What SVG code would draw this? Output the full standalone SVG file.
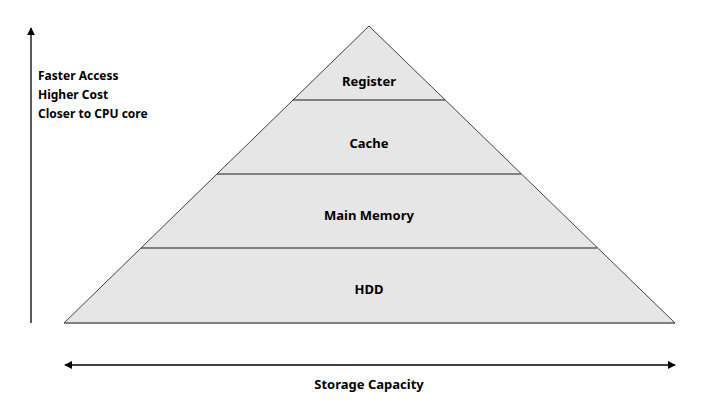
<svg xmlns="http://www.w3.org/2000/svg" width="724" height="408" viewBox="0 0 724 408">
<style>
.layer{fill:#e6e6e6;stroke:none}
.edge{stroke:#404040;stroke-width:1;fill:none}
.sep{stroke:#808080;stroke-width:2;fill:none}
.lbl{font-family:"Noto Sans","Liberation Sans",sans-serif;font-weight:bold;font-size:13px;fill:#000;text-anchor:middle}
.side{font-family:"Noto Sans","Liberation Sans",sans-serif;font-weight:bold;font-size:12px;fill:#000}
.axis{stroke:#000;stroke-width:1.3;fill:none}
</style>
<defs>
<marker id="ah" viewBox="0 0 10 10" refX="9" refY="5" markerWidth="8" markerHeight="8" markerUnits="userSpaceOnUse" orient="auto-start-reverse">
<path d="M0,0 L10,5 L0,10 z" fill="#000"/>
</marker>
</defs>
<rect width="724" height="408" fill="#fff"/>
<g id="hdd">
<polygon class="layer" points="141,248 597,248 675,323 64,323"/>
<text class="lbl" x="369" y="294">HDD</text>
</g>
<g id="main-memory">
<polygon class="layer" points="217,174 521,174 597,248 141,248"/>
<text class="lbl" x="369" y="220">Main Memory</text>
</g>
<g id="cache">
<polygon class="layer" points="293,100 445,100 521,174 217,174"/>
<text class="lbl" x="369" y="148">Cache</text>
</g>
<g id="register">
<polygon class="layer" points="369,26 445,100 293,100"/>
<text class="lbl" x="369" y="86">Register</text>
</g>
<g id="connectors">
<line class="sep" x1="293" y1="100" x2="445" y2="100"/>
<line class="sep" x1="217" y1="174" x2="521" y2="174"/>
<line class="sep" x1="141" y1="248" x2="597" y2="248"/>
<line class="sep" x1="64" y1="323" x2="675" y2="323"/>
<polyline class="edge" points="64,323 369,26 675,323"/>
<line class="axis" x1="31" y1="323" x2="31" y2="28" marker-end="url(#ah)"/>
<line class="axis" x1="65" y1="365" x2="675" y2="365" marker-start="url(#ah)" marker-end="url(#ah)"/>
</g>
<g id="labels">
<text class="side" x="38" y="80">Faster Access</text>
<text class="side" x="38" y="99">Higher Cost</text>
<text class="side" x="38" y="118">Closer to CPU core</text>
<text class="lbl" x="369" y="389">Storage Capacity</text>
</g>
</svg>
